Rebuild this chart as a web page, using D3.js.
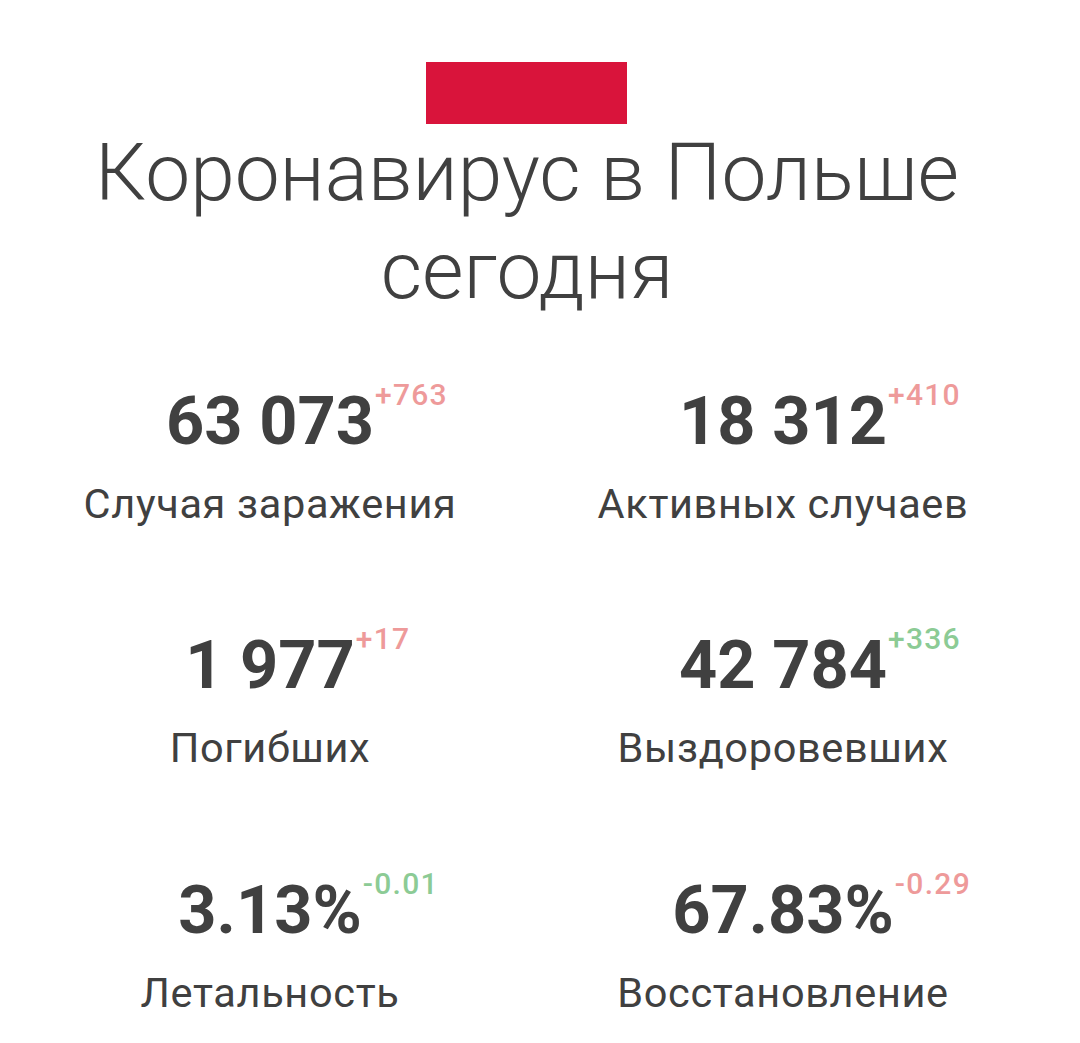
<!DOCTYPE html>
<html>
<head>
<meta charset="utf-8">
<script src="https://cdn.jsdelivr.net/npm/d3@7"></script>
<style>
html, body { margin: 0; background: #fff; }
text { font-family: Roboto, sans-serif; }
</style>
</head>
<body>
<script>
var titleLines = ['Коронавирус в Польше', 'сегодня']
var values = ['63 073', '18 312', '1 977', '42 784', '3.13%', '67.83%']
var deltas = ['+763', '+410', '+17', '+336', '-0.01', '-0.29']
var labels = ['Случая заражения', 'Активных случаев', 'Погибших', 'Выздоровевших', 'Летальность', 'Восстановление']
var deltaKinds = ['bad', 'bad', 'bad', 'good', 'good', 'bad']

var colors = { bad: '#ee9a9a', good: '#8ccb95' }
var ink = '#404040'

var svg = d3.select('body').append('svg').attr('width', 1080).attr('height', 1043)

svg.append('rect').attr('x', 426).attr('y', 62).attr('width', 201).attr('height', 62).attr('fill', '#d9143b')

svg.selectAll('.title').data(titleLines).enter().append('text')
    .attr('class', 'title')
    .attr('x', 527)
    .attr('y', function (d, i) { return 200 + i * 98 })
    .attr('text-anchor', 'middle')
    .attr('font-size', 80.2)
    .attr('font-weight', 300)
    .attr('fill', ink)
    .text(function (d) { return d })

var colX = [270, 783]
var rowY = [444, 688, 933]

var cells = svg.selectAll('.cell').data(values).enter().append('g')
    .attr('class', 'cell')
    .attr('transform', function (d, i) { return 'translate(' + colX[i % 2] + ',' + rowY[Math.floor(i / 2)] + ')' })

cells.append('text')
    .attr('text-anchor', 'middle')
    .attr('font-size', 66.7)
    .attr('font-weight', 700)
    .attr('fill', ink)
    .text(function (d) { return d })

cells.append('text')
    .attr('y', 74)
    .attr('text-anchor', 'middle')
    .attr('font-size', 41.5)
    .attr('letter-spacing', 0.65)
    .attr('fill', ink)
    .text(function (d, i) { return labels[i] })

// delta sits at the top right corner of the big number
cells.each(function (d, i) {
    var g = d3.select(this)
    var w = g.select('text').node().getComputedTextLength()
    g.append('text')
        .attr('x', w / 2 + 1)
        .attr('y', -39)
        .attr('font-size', 30)
        .attr('font-weight', 500)
        .attr('letter-spacing', 1.3)
        .attr('fill', colors[deltaKinds[i]])
        .text(deltas[i])
})
</script>
</body>
</html>
